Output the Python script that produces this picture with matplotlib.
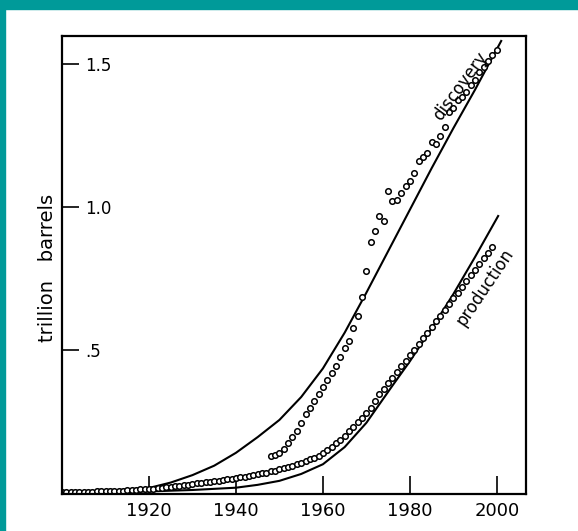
import matplotlib
matplotlib.use("Agg")
import matplotlib.pyplot as plt
from matplotlib.patches import Rectangle

# solid model curves (trillion barrels)
disc_curve_years = [1900, 1910, 1915, 1920, 1925, 1930, 1935, 1940, 1945, 1950, 1955, 1960,
                    1965, 1970, 1975, 1980, 1985, 1990, 1995, 2001]
disc_curve_vals = [0.0, 0.004, 0.009, 0.017, 0.036, 0.062, 0.095, 0.14, 0.195, 0.255, 0.335, 0.435,
                   0.56, 0.70, 0.845, 0.99, 1.135, 1.275, 1.41, 1.58]

prod_curve_years = [1900, 1910, 1920, 1930, 1940, 1945, 1950, 1955, 1960, 1965, 1970,
                    1973, 1976, 1980, 1985, 1990, 1995, 2000.3]
prod_curve_vals = [0.0, 0.002, 0.005, 0.010, 0.018, 0.028, 0.042, 0.066, 0.10, 0.16, 0.245,
                   0.31, 0.375, 0.46, 0.575, 0.695, 0.825, 0.968]

# discovery data points
disc_years = list(range(1948, 2001))
disc_vals = [0.13, 0.133, 0.14, 0.155, 0.175, 0.195, 0.215, 0.245, 0.275, 0.295,
             0.32, 0.345, 0.37, 0.395, 0.42, 0.445, 0.475, 0.505, 0.53, 0.575,
             0.62, 0.686, 0.776, 0.877, 0.915, 0.968, 0.95, 1.055, 1.02, 1.023,
             1.05, 1.072, 1.09, 1.12, 1.16, 1.173, 1.19, 1.225, 1.22, 1.246,
             1.28, 1.33, 1.347, 1.375, 1.385, 1.40, 1.427, 1.444, 1.47, 1.49,
             1.51, 1.53, 1.55]

# production data points
prod_years = list(range(1900, 2000))
prod_vals = [0.002, 0.002, 0.003, 0.003, 0.003, 0.004, 0.004, 0.004, 0.005, 0.005,
             0.006, 0.006, 0.007, 0.008, 0.008, 0.009, 0.010, 0.011, 0.012, 0.013,
             0.014, 0.015, 0.017, 0.018, 0.020, 0.021, 0.023, 0.025, 0.027, 0.029,
             0.031, 0.033, 0.035, 0.037, 0.039, 0.041, 0.043, 0.046, 0.048, 0.050,
             0.052, 0.055, 0.057, 0.060, 0.062, 0.065, 0.068, 0.071, 0.075, 0.078,
             0.082, 0.086, 0.090, 0.095, 0.100, 0.105, 0.111, 0.117, 0.123, 0.130,
             0.139, 0.150, 0.161, 0.173, 0.186, 0.200, 0.215, 0.230, 0.246, 0.263,
             0.280, 0.298, 0.320, 0.345, 0.364, 0.384, 0.403, 0.423, 0.442, 0.462,
             0.481, 0.500, 0.520, 0.540, 0.560, 0.580, 0.600, 0.620, 0.640, 0.660,
             0.680, 0.700, 0.720, 0.740, 0.760, 0.780, 0.800, 0.820, 0.840, 0.860]

x_ticks = [1920, 1940, 1960, 1980, 2000]
y_ticks = [0.5, 1.0, 1.5]
y_labels = [".5", "1.0", "1.5"]

fig = plt.figure(figsize=(5.78, 5.31), dpi=100)
teal = "#009a99"
fig.patches.append(Rectangle((0, 0.983), 1, 0.017, transform=fig.transFigure, color=teal, zorder=0))
fig.patches.append(Rectangle((0, 0), 0.009, 1, transform=fig.transFigure, color=teal, zorder=0))

ax = fig.add_axes([0.1073, 0.0697, 0.8027, 0.8623])
ax.plot(disc_curve_years, disc_curve_vals, color="black", lw=1.5)
ax.plot(prod_curve_years, prod_curve_vals, color="black", lw=1.5)
ax.plot(disc_years, disc_vals, "o", mfc="white", mec="black", ms=4, mew=1.1)
ax.plot(prod_years, prod_vals, "o", mfc="white", mec="black", ms=4, mew=1.1)

ax.set_xlim(1900, 2006.7)
ax.set_ylim(-0.004, 1.597)
ax.set_xticks(x_ticks)
ax.set_xticklabels([str(y) for y in x_ticks], fontsize=13)
ax.set_yticks(y_ticks)
ax.set_yticklabels(y_labels, fontsize=12)
ax.tick_params(axis="x", direction="in", length=13, width=1.2, pad=6)
ax.tick_params(axis="y", direction="in", length=12, width=1.2, pad=-16.5)
for t in ax.get_yticklabels():
    t.set_horizontalalignment("left")
for s in ax.spines.values():
    s.set_linewidth(1.6)

ax.text(1991.5, 1.42, "discovery", rotation=54, fontsize=12, ha="center", va="center")
ax.text(1997.3, 0.72, "production", rotation=56, fontsize=12, ha="center", va="center")

fig.text(0.083, 0.495, "trillion   barrels", rotation=90, fontsize=14, ha="center", va="center")

fig.savefig("out.png", dpi=100)
